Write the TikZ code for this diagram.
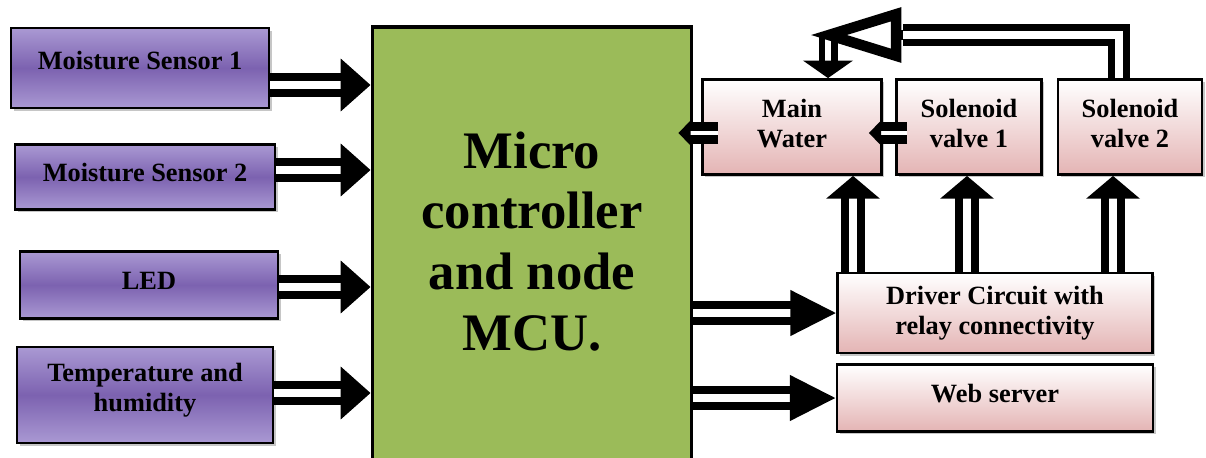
\documentclass[tikz,border=0pt]{standalone}
\usepackage{fontspec}
\setmainfont{Liberation Serif}
\usetikzlibrary{arrows.meta,shadows}

\definecolor{purpHi}{RGB}{170,153,211}
\definecolor{purpLo}{RGB}{124,98,176}
\definecolor{mcuGreen}{RGB}{155,187,89}
\definecolor{pinkLo}{RGB}{228,180,180}

\begin{document}
\begin{tikzpicture}[
  x=0.02cm, y=-0.02cm,
  box/.style={draw=black, line width=1.6pt, inner sep=2pt, align=center,
              font=\fontsize{15}{17}\selectfont\bfseries,
              drop shadow={shadow xshift=1.5pt, shadow yshift=-1.5pt, opacity=.45}},
  sensor/.style={box, top color=purpHi, bottom color=purpHi, middle color=purpLo},
  unit/.style={box, top color=white, bottom color=pinkLo},
  mcu/.style={draw=black, line width=2.2pt, fill=mcuGreen, align=center,
              font=\fontsize{30}{34.6}\selectfont\bfseries},
  dbl/.style={draw=black, line width=4.4pt, double=white, double distance=5pt},
  arr/.style={dbl, -{Triangle[length=17pt, width=29pt]}},
  uparr/.style={dbl, -{Triangle[length=13pt, width=30pt]}},
  longarr/.style={dbl, -{Triangle[length=26pt, width=25pt]}},
  stub/.style={dbl, line width=5pt, double distance=2.5pt, -{Triangle[length=7pt, width=14pt]}}
]
\path[use as bounding box] (0,0) rectangle (1206,457);
\clip (0,0) rectangle (1206,457);

% ---------------- sensors ----------------
\node[sensor, minimum width=5.16cm, minimum height=1.6cm, text depth=9pt] (ms1) at (140,68) {Moisture Sensor 1};
\node[sensor, minimum width=5.2cm, minimum height=1.3cm, text depth=5.5pt] (ms2) at (145,177) {Moisture Sensor 2};
\node[sensor, minimum width=5.16cm, minimum height=1.34cm, text depth=5pt] (led) at (149,285) {LED};
\node[sensor, minimum width=5.12cm, minimum height=1.92cm, text depth=9pt] (th) at (145,395) {Temperature and\\ humidity};

% ---------------- controller ----------------
\node[mcu, minimum width=6.38cm, minimum height=8.96cm, text depth=0.4cm] (mcu) at (532,251)
  {Micro\\ controller\\ and node\\ MCU.};

% ---------------- outputs ----------------
\node[unit, minimum width=3.58cm, minimum height=1.9cm, text depth=4pt] (mw) at (792,127) {Main\\ Water};
\node[unit, minimum width=2.9cm, minimum height=1.9cm, text depth=4pt] (sv1) at (969,127) {Solenoid\\ valve 1};
\node[unit, minimum width=2.88cm, minimum height=1.9cm, text depth=4pt] (sv2) at (1130,127) {Solenoid\\ valve 2};
\node[unit, minimum width=6.3cm, minimum height=1.6cm] (drv) at (995,313) {Driver Circuit with\\ relay connectivity};
\node[unit, minimum width=6.32cm, minimum height=1.34cm, text depth=5.5pt] (web) at (995,398) {Web server};

% ---------------- rows and columns of the arrows ----------------
\coordinate (in1) at (0,85);
\coordinate (in2) at (0,170);
\coordinate (in3) at (0,287);
\coordinate (in4) at (0,393);
\coordinate (back) at (0,133);
\coordinate (c1) at (853,0);
\coordinate (c2) at (967,0);
\coordinate (c3) at (1113,0);
\coordinate (ret) at (1119,35);
\coordinate (head) at (903,35);
\coordinate (retL) at (828,35);

% sensors into the controller
\draw[arr] (ms1.east |- in1) -- (mcu.west |- in1);
\draw[arr] (ms2.east |- in2) -- (mcu.west |- in2);
\draw[arr] (led.east |- in3) -- (mcu.west |- in3);
\draw[arr] (th.east |- in4) -- (mcu.west |- in4);

% controller out
\draw[longarr] (mcu.east |- drv.west) -- (drv.west);
\draw[longarr] (mcu.east |- web.west) -- (web.west);

% driver up to the valves
\draw[uparr] (drv.north -| c1) -- (mw.south -| c1);
\draw[uparr] (drv.north -| c2) -- (sv1.south -| c2);
\draw[uparr] (drv.north -| c3) -- (sv2.south -| c3);

% feedback
\draw[stub, shorten <=-0.34cm, shorten >=-0.3cm] (mw.west |- back) -- (mcu.east |- back);
\draw[stub, shorten <=-0.24cm, shorten >=-0.28cm] (sv1.west |- back) -- (mw.east |- back);
\draw[dbl, line width=3.6pt, double distance=3.6pt, -{Triangle[length=10pt, width=28pt]}] (retL) -- (mw.north -| retL);
\draw[dbl, line width=4pt, double distance=5pt, line join=miter] (sv2.north -| ret) -- (ret) -- (head);
\draw[line width=6pt, -{Triangle[open, length=52pt, width=30pt]}] (head) -- ([xshift=-0.36cm]retL);

\end{tikzpicture}
\end{document}
